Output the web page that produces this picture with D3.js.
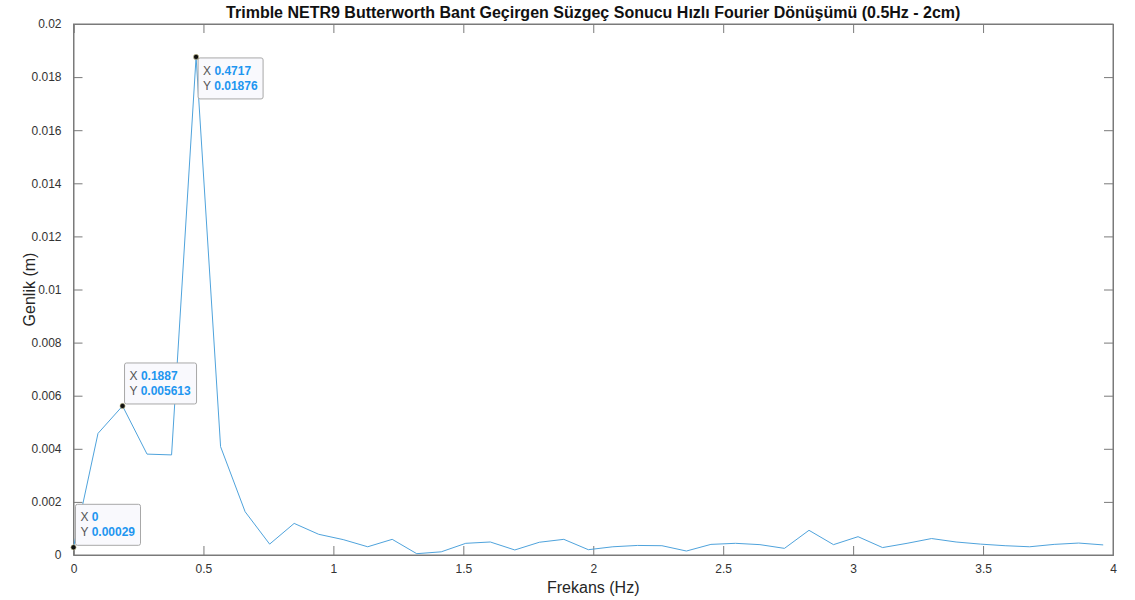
<!DOCTYPE html>
<html>
<head>
<meta charset="utf-8">
<script src="https://cdn.jsdelivr.net/npm/d3@7/dist/d3.min.js"></script>
<style>
  html, body { margin: 0; padding: 0; background: #fff; }
  svg { display: block; font-family: "Liberation Sans", Arial, Helvetica, sans-serif; }
</style>
</head>
<body>
<svg id="chart" width="1135" height="600"></svg>
<script>
// FFT amplitude spectrum of the band-pass filtered NETR9 record
const frequencies = [
  0, 0.0943, 0.1887, 0.2830, 0.3774, 0.4717, 0.5660, 0.6604, 0.7547, 0.8491,
  0.9434, 1.0377, 1.1321, 1.2264, 1.3208, 1.4151, 1.5094, 1.6038, 1.6981, 1.7925,
  1.8868, 1.9811, 2.0755, 2.1698, 2.2642, 2.3585, 2.4528, 2.5472, 2.6415, 2.7358,
  2.8302, 2.9245, 3.0189, 3.1132, 3.2075, 3.3019, 3.3962, 3.4906, 3.5849, 3.6792,
  3.7736, 3.8679, 3.9623
];
const amplitudes = [
  0.00029, 0.00458, 0.005613, 0.00380, 0.00377, 0.01876, 0.00408, 0.00163, 0.00041, 0.00119,
  0.00078, 0.00058, 0.00031, 0.00059, 0.00005, 0.00012, 0.00044, 0.00049, 0.00019, 0.00048,
  0.00059, 0.00020, 0.00031, 0.00036, 0.00035, 0.00015, 0.00040, 0.00044, 0.00039, 0.00025,
  0.00093, 0.00039, 0.00069, 0.00028, 0.00044, 0.00062, 0.00049, 0.00041, 0.00035, 0.00031,
  0.00040, 0.00045, 0.00038
];
const xTicks = [0, 0.5, 1, 1.5, 2, 2.5, 3, 3.5, 4];
const xTickLabels = ["0", "0.5", "1", "1.5", "2", "2.5", "3", "3.5", "4"];
const yTicks = [0, 0.002, 0.004, 0.006, 0.008, 0.01, 0.012, 0.014, 0.016, 0.018, 0.02];
const yTickLabels = ["0", "0.002", "0.004", "0.006", "0.008", "0.01", "0.012", "0.014", "0.016", "0.018", "0.02"];

// data tips: index into the series and placement of the tip box
const tipIndices = [0, 2, 5];
const tipXLabels = ["0", "0.1887", "0.4717"];
const tipYLabels = ["0.00029", "0.005613", "0.01876"];
const tipPlacement = ["above", "above", "below"];

const titleText = "Trimble NETR9 Butterworth Bant Geçirgen Süzgeç Sonucu Hızlı Fourier Dönüşümü (0.5Hz - 2cm)";
const xLabelText = "Frekans (Hz)";
const yLabelText = "Genlik (m)";

const svg = d3.select("#chart");
const margin = { left: 73.5, right: 22, top: 24, bottom: 45 };
const W = 1135, H = 600;
const x0 = margin.left, x1 = W - margin.right, y0 = H - margin.bottom, y1 = margin.top;

const x = d3.scaleLinear().domain([0, 4]).range([x0, x1]);
const y = d3.scaleLinear().domain([0, 0.02]).range([y0, y1]);

const axisColor = "#7a7a7a";
const textColor = "#333";
const tickLen = 9;

const g = svg.append("g");

// plot box
g.append("rect")
  .attr("x", x0).attr("y", y1)
  .attr("width", x1 - x0).attr("height", y0 - y1)
  .attr("fill", "#fff").attr("stroke", axisColor).attr("stroke-width", 1);

// bottom axis, inward ticks
const xAxis = d3.axisBottom(x).tickValues(xTicks).tickSize(-tickLen).tickPadding(9)
  .tickFormat((d, i) => xTickLabels[i]);
const gx = g.append("g").attr("transform", `translate(0,${y0})`).call(xAxis);
// top axis mirror ticks
const gxt = g.append("g").attr("transform", `translate(0,${y1})`)
  .call(d3.axisTop(x).tickValues(xTicks).tickSize(-tickLen).tickFormat(""));
// left axis
const yAxis = d3.axisLeft(y).tickValues(yTicks).tickSize(-tickLen).tickPadding(12)
  .tickFormat((d, i) => yTickLabels[i]);
const gy = g.append("g").attr("transform", `translate(${x0},0)`).call(yAxis);
// right axis mirror ticks
const gyr = g.append("g").attr("transform", `translate(${x1},0)`)
  .call(d3.axisRight(y).tickValues(yTicks).tickSize(-tickLen).tickFormat(""));

[gx, gxt, gy, gyr].forEach(a => {
  a.select(".domain").attr("stroke", axisColor);
  a.selectAll(".tick line").attr("stroke", axisColor);
  a.selectAll(".tick text").attr("fill", textColor)
    .style("font-family", '"Liberation Sans", Arial, sans-serif').style("font-size", "12px");
});

// spectrum line
const pts = frequencies.map((f, i) => ({ f, a: amplitudes[i] }));
g.append("path")
  .datum(pts)
  .attr("fill", "none")
  .attr("stroke", "#4fa3dc")
  .attr("stroke-width", 1)
  .attr("d", d3.line().x(d => x(d.f)).y(d => y(d.a)));

// data tips
const tipW = [65, 72, 65];
const tipH = 41;
tipIndices.forEach((idx, k) => {
  const px = x(frequencies[idx]), py = y(amplitudes[idx]);
  const bx = px + 2;
  const by = tipPlacement[k] === "above" ? py - 2 - tipH : py + 1;
  const tg = g.append("g");
  tg.append("rect")
    .attr("x", bx).attr("y", by).attr("width", tipW[k]).attr("height", tipH)
    .attr("rx", 2).attr("ry", 2)
    .attr("fill", "#f9f9fd").attr("stroke", "#a8a8a8").attr("stroke-width", 1);
  const lines = [["X", tipXLabels[k]], ["Y", tipYLabels[k]]];
  lines.forEach((ln, j) => {
    const t = tg.append("text")
      .attr("x", bx + 5).attr("y", by + 17 + j * 15)
      .style("font-size", "12px");
    t.append("tspan").attr("fill", "#555").text(ln[0] + " ");
    t.append("tspan").attr("fill", "#1e96f0").attr("font-weight", "bold").text(ln[1]);
  });
  tg.append("circle")
    .attr("cx", px).attr("cy", py).attr("r", 2.6)
    .attr("fill", "#111").attr("stroke", "#d8d4a0").attr("stroke-width", 0.6);
});

// title and axis labels
svg.append("text")
  .attr("x", (x0 + x1) / 2).attr("y", 18)
  .attr("text-anchor", "middle")
  .attr("font-weight", "bold").style("font-size", "16px").attr("fill", "#111")
  .text(titleText);

svg.append("text")
  .attr("x", (x0 + x1) / 2).attr("y", 593)
  .attr("text-anchor", "middle")
  .style("font-size", "16px").attr("fill", "#262626")
  .text(xLabelText);

svg.append("text")
  .attr("transform", `translate(35,${(y0 + y1) / 2}) rotate(-90)`)
  .attr("text-anchor", "middle")
  .style("font-size", "16px").attr("fill", "#262626")
  .text(yLabelText);
</script>
</body>
</html>
